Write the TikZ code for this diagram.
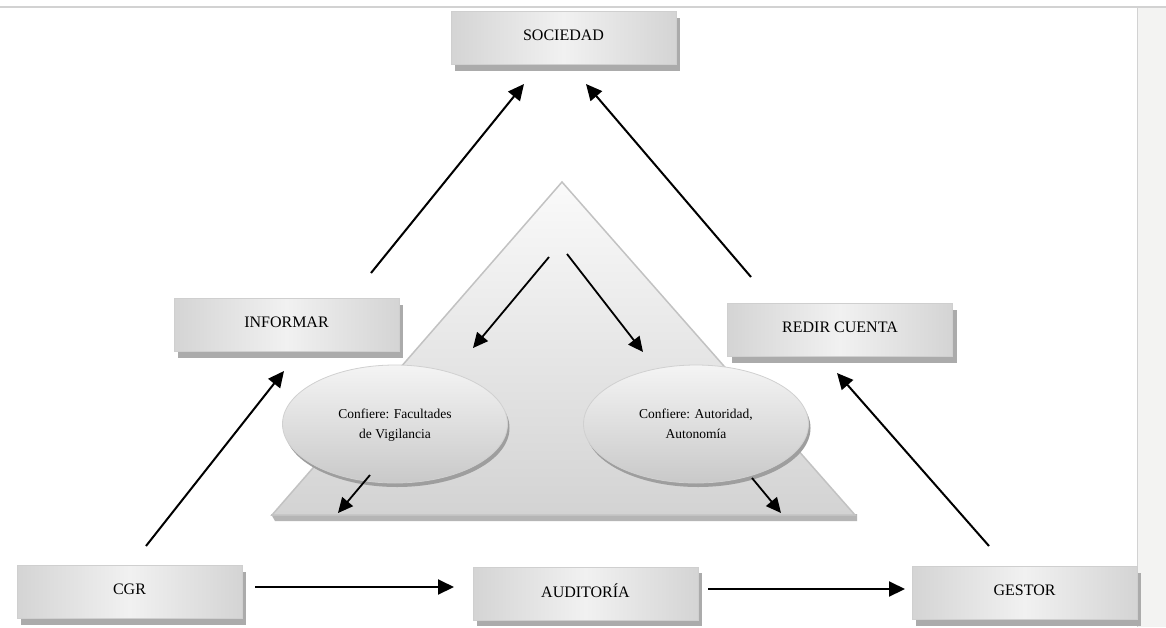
\documentclass[tikz,border=0pt]{standalone}
\usepackage{fontspec}
\setmainfont{Liberation Serif}
\usetikzlibrary{shapes.geometric,arrows.meta,shadows}
\definecolor{boxmid}{HTML}{F1F1F1}
\definecolor{boxedge}{HTML}{D4D4D4}
\definecolor{boxborder}{HTML}{CFCFCF}
\definecolor{shadowgray}{HTML}{ABABAB}
\definecolor{panelgray}{HTML}{F3F3F2}
\definecolor{linegray}{HTML}{D2D2D2}
\definecolor{tritop}{HTML}{FAFAFA}
\definecolor{tribot}{HTML}{D3D3D3}
\definecolor{triborder}{HTML}{C2C2C2}
\definecolor{trishadow}{HTML}{B5B5B5}
\definecolor{ovaltop}{HTML}{F4F4F4}
\definecolor{ovalbot}{HTML}{C9C9C9}
\definecolor{ovalborder}{HTML}{D0D0D0}
\definecolor{ovalshadow}{HTML}{9E9E9E}
\newcommand{\ovaltext}[2]{\raisebox{5pt}{\begin{tabular}{@{}c@{}}#1\\#2\end{tabular}}}
\begin{document}
\begin{tikzpicture}[x=1pt,y=-1pt,
  box/.style={rectangle, minimum width=225pt, minimum height=53pt, inner sep=0pt,
    draw=boxborder, line width=1pt, left color=boxedge, right color=boxedge, middle color=boxmid,
    general shadow={fill=shadowgray, shadow xshift=4pt, shadow yshift=-6pt},
    font=\fontsize{16}{18}\selectfont},
  oval/.style={ellipse, minimum width=225pt, minimum height=118pt, inner sep=0pt,
    draw=ovalborder, line width=0.8pt, top color=ovaltop, bottom color=ovalbot,
    general shadow={fill=ovalshadow, shadow xshift=2pt, shadow yshift=-4pt},
    font=\fontsize{13.5}{20}\selectfont},
  arr/.style={-{Triangle[length=16pt,width=15pt]}, line width=2pt, black},
  arrs/.style={-{Triangle[length=15pt,width=14pt]}, line width=1.8pt, black}]
\useasboundingbox (0,0) rectangle (1166,627);
\fill[white] (0,0) rectangle (1166,627);
\fill[panelgray] (1137,7) rectangle (1166,627);
\draw[linegray, line width=0.6pt] (1137,7) -- (1137,627);
\draw[linegray, line width=1.5pt] (0,7) -- (1166,7);

% triangle
\fill[trishadow] (271,514) -- (857,514) -- (857,521) -- (275,521) -- cycle;
\shade[top color=tritop, bottom color=tribot, draw=triborder, line width=1.5pt]
  (562,182) -- (855,515) -- (272,515) -- cycle;

% boxes
\node[box] (soc) at (563.5,38) {\raisebox{6pt}{SOCIEDAD}};
\node[box] (inf) at (286.5,325) {\raisebox{6pt}{INFORMAR}};
\node[box] (red) at (840,330) {\raisebox{6pt}{REDIR CUENTA}};
\node[box] (cgr) at (129.5,592) {\raisebox{6pt}{CGR}};
\node[box] (aud) at (585.5,593.5) {\raisebox{6pt}{AUDITORÍA}};
\node[box] (ges) at (1024.5,593) {\raisebox{6pt}{GESTOR}};

% ellipses
\node[oval] (fac) at (395,424) {\ovaltext{Confiere: Facultades}{de Vigilancia}};
\node[oval] (aut) at (696,424) {\ovaltext{Confiere: Autoridad,}{Autonomía}};

% connector end points
\coordinate (c1) at (146,546);  \coordinate (i1) at (284,371);
\coordinate (i2) at (371,273);  \coordinate (s1) at (524,84);
\coordinate (r1) at (751,277);  \coordinate (s2) at (586,84);
\coordinate (g1) at (989,546);  \coordinate (r2) at (837,373);
\coordinate (c2) at (255,587);  \coordinate (a1) at (454,587);
\coordinate (a2) at (708,589);  \coordinate (g2) at (905,589);
\coordinate (t1) at (549,257);  \coordinate (f1) at (473,348);
\coordinate (t2) at (567,254);  \coordinate (u1) at (643,352);
\coordinate (f2) at (370,475);  \coordinate (b1) at (338,513);
\coordinate (u2) at (752,478);  \coordinate (b2) at (781,513);

\draw[arr] (c1) -- (i1);
\draw[arr] (i2) -- (s1);
\draw[arr] (r1) -- (s2);
\draw[arr] (g1) -- (r2);
\draw[arr] (c2) -- (a1);
\draw[arr] (a2) -- (g2);
\draw[arrs] (t1) -- (f1);
\draw[arrs] (t2) -- (u1);
\draw[arrs] (f2) -- (b1);
\draw[arrs] (u2) -- (b2);
\end{tikzpicture}
\end{document}
